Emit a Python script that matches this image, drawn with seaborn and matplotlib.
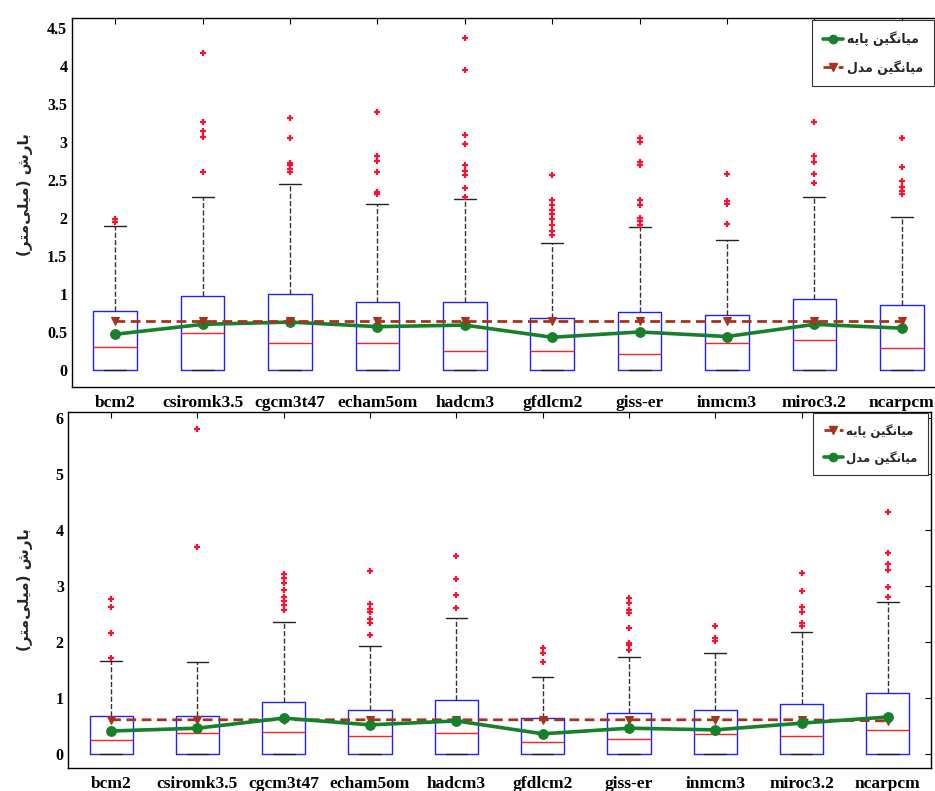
import numpy as np
import pandas as pd
import matplotlib
matplotlib.use("Agg")
import matplotlib.pyplot as plt
import seaborn as sns
from matplotlib.lines import Line2D

sns.set_style("white")
plt.rcParams['font.family'] = ['Liberation Serif', 'DejaVu Sans']
plt.rcParams['font.weight'] = 'bold'

# ---------------- data ----------------
models = ['bcm2', 'csiromk3.5', 'cgcm3t47', 'echam5om', 'hadcm3',
          'gfdlcm2', 'giss-er', 'inmcm3', 'miroc3.2', 'ncarpcm']

# top panel
top_q1 = [0, 0, 0, 0, 0, 0, 0, 0, 0, 0]
top_med = [0.30, 0.48, 0.35, 0.35, 0.25, 0.25, 0.21, 0.35, 0.40, 0.29]
top_q3 = [0.78, 0.97, 1.00, 0.89, 0.90, 0.68, 0.76, 0.72, 0.93, 0.86]
top_whi = [1.90, 2.28, 2.44, 2.18, 2.25, 1.67, 1.88, 1.71, 2.27, 2.01]
top_fliers = [
    [1.95, 1.98],
    [4.17, 3.26, 3.15, 3.07, 2.60],
    [3.31, 3.05, 2.72, 2.69, 2.65, 2.60],
    [3.40, 2.82, 2.75, 2.60, 2.34, 2.31],
    [4.37, 3.95, 3.09, 2.97, 2.69, 2.62, 2.56, 2.39, 2.27],
    [2.56, 2.24, 2.17, 2.11, 2.05, 1.98, 1.91, 1.83, 1.78],
    [3.05, 3.00, 2.74, 2.70, 2.23, 2.17, 2.00, 1.96, 1.91],
    [2.58, 2.22, 2.18, 1.92],
    [3.26, 2.82, 2.74, 2.58, 2.46],
    [3.05, 2.67, 2.48, 2.41, 2.36, 2.31],
]
top_green = [0.47, 0.60, 0.63, 0.57, 0.59, 0.43, 0.50, 0.44, 0.60, 0.55]
top_brown = [0.64, 0.64, 0.64, 0.64, 0.64, 0.64, 0.64, 0.64, 0.64, 0.64]

# bottom panel
bot_q1 = [0, 0, 0, 0, 0, 0, 0, 0, 0, 0]
bot_med = [0.25, 0.38, 0.39, 0.32, 0.38, 0.21, 0.27, 0.36, 0.32, 0.43]
bot_q3 = [0.68, 0.68, 0.93, 0.79, 0.96, 0.64, 0.73, 0.79, 0.89, 1.09]
bot_whi = [1.66, 1.64, 2.36, 1.93, 2.43, 1.38, 1.73, 1.80, 2.18, 2.71]
bot_fliers = [
    [2.77, 2.63, 2.16, 1.71],
    [5.80, 3.70],
    [3.21, 3.14, 3.05, 2.93, 2.80, 2.73, 2.66, 2.57],
    [3.27, 2.68, 2.59, 2.54, 2.41, 2.34, 2.13],
    [3.54, 3.13, 2.84, 2.61],
    [1.89, 1.80, 1.64],
    [2.79, 2.70, 2.57, 2.52, 2.25, 1.98, 1.95, 1.86],
    [2.29, 2.07, 2.02],
    [3.23, 2.91, 2.63, 2.54, 2.34, 2.29],
    [4.32, 3.59, 3.38, 3.29, 2.98, 2.80],
]
bot_green = [0.41, 0.46, 0.64, 0.52, 0.59, 0.36, 0.46, 0.43, 0.55, 0.66]
bot_brown = [0.61, 0.61, 0.61, 0.61, 0.61, 0.61, 0.61, 0.61, 0.61, 0.59]

top_yticks = [0, 0.5, 1, 1.5, 2, 2.5, 3, 3.5, 4, 4.5]
top_yticklabels = ['0', '0.5', '1', '1.5', '2', '2.5', '3', '3.5', '4', '4.5']
bot_yticks = [0, 1, 2, 3, 4, 5, 6]
bot_yticklabels = ['0', '1', '2', '3', '4', '5', '6']

# Persian text in visual order with presentation forms
w_barsh = "\uFEB5\uFEAD\uFE8E\uFE91"          # بارش
w_mili = "\uFEF0\uFEE0\uFEF4\uFEE3"            # میلی
w_metr = "\uFEAE\uFE98\uFEE3"                  # متر
w_mian = "\uFEE6\uFEF4\uFB95\uFEE7\uFE8E\uFEF4\uFEE3"  # میانگین
w_paye = "\uFEEA\uFEF3\uFE8E\uFB58"            # پایه
w_model = "\uFEDD\uFEAA\uFEE3"                 # مدل
ylabel_txt = "(" + w_metr + w_mili + ")" + " " + w_barsh
lbl_base = w_paye + " " + w_mian
lbl_model = w_model + " " + w_mian

GREEN = '#16802a'
BROWN = '#a8321e'

fig = plt.figure(figsize=(9.35, 7.91), dpi=100)
W, H = 935, 791

def make_axes(l, r, t, b):
    return fig.add_axes([l / W, (H - b) / H, (r - l) / W, (b - t) / H])

ax1 = make_axes(71.5, 945.5, 18, 387)
ax2 = make_axes(68, 931, 412, 768)

pos = np.arange(1, len(models) + 1)

def draw_panel(ax, q1, med, q3, whi, fliers, green, brown, order, labels,
               ylim, yticks, yticklabels, leg_anchor, leg_size):
    stats = []
    for i in range(len(models)):
        stats.append(dict(med=med[i], q1=q1[i], q3=q3[i], whislo=q1[i],
                          whishi=whi[i], fliers=np.array(fliers[i]),
                          label=models[i]))
    ax.bxp(stats, positions=pos, widths=0.5, capwidths=0.25,
           boxprops=dict(color='#2020ff', lw=1.0),
           medianprops=dict(color='#ff2020', lw=1.0),
           whiskerprops=dict(color='#333333', ls='--', lw=1.0),
           capprops=dict(color='#222222', lw=1.0),
           flierprops=dict(marker='+', markeredgecolor='#ff1030',
                           markersize=4.5, mew=1.6, linestyle='none'),
           manage_ticks=False)
    handles = {}
    for key in order:
        if key == 'green':
            sns.lineplot(x=pos, y=green, ax=ax, color=GREEN, lw=2.6,
                         marker='o', markersize=7, markeredgecolor=GREEN,
                         zorder=5)
            handles['green'] = Line2D([], [], color=GREEN, lw=2.6, marker='o',
                                      markersize=6, markeredgecolor=GREEN)
        else:
            sns.lineplot(x=pos, y=brown, ax=ax, color=BROWN, lw=2.0,
                         linestyle=(0, (3.5, 2)), marker='v', markersize=6,
                         markeredgecolor=BROWN, zorder=5)
            handles['brown'] = Line2D([], [], color=BROWN, lw=2.0,
                                      linestyle=(0, (3.5, 2)), marker='v',
                                      markersize=6, markeredgecolor=BROWN)
    ax.set_xlim(0.5, len(models) + 0.5)
    ax.set_ylim(*ylim)
    ax.set_xticks(pos)
    ax.set_xticklabels(models, fontsize=12.5, fontweight='bold',
                       family='Liberation Serif')
    ax.set_yticks(yticks)
    ax.set_yticklabels(yticklabels, fontsize=11.5, fontweight='bold',
                       family='Liberation Serif')
    ax.tick_params(direction='in', length=4, width=0.8, top=True,
                   right=True, pad=3, colors='black')
    ax.tick_params(axis='x', pad=6)
    for s in ax.spines.values():
        s.set_visible(True)
        s.set_color('black')
        s.set_linewidth(1.0)
    ax.set_xlabel('')
    ax.set_ylabel('')
    leg = ax.legend([handles[k] for k in labels[0]], labels[1],
                    loc='upper right', bbox_to_anchor=leg_anchor,
                    frameon=True, fancybox=False, framealpha=1,
                    edgecolor='#333333', borderpad=0.9, labelspacing=1.1,
                    handlelength=1.6, handletextpad=0.3, borderaxespad=0.0,
                    prop=dict(family='DejaVu Sans', weight='bold',
                              size=leg_size))
    leg.get_frame().set_linewidth(0.8)

draw_panel(ax1, top_q1, top_med, top_q3, top_whi, top_fliers, top_green,
           top_brown, order=['green', 'brown'],
           labels=(['green', 'brown'], [lbl_base, lbl_model]),
           ylim=(-0.224, 4.63), yticks=top_yticks,
           yticklabels=top_yticklabels,
           leg_anchor=((934 - 71.5) / 874, 0.995), leg_size=9)
draw_panel(ax2, bot_q1, bot_med, bot_q3, bot_whi, bot_fliers, bot_green,
           bot_brown, order=['brown', 'green'],
           labels=(['brown', 'green'], [lbl_base, lbl_model]),
           ylim=(-0.25, 6.1), yticks=bot_yticks,
           yticklabels=bot_yticklabels,
           leg_anchor=(0.997, 0.997), leg_size=8.5)

fig.text(25 / W, 1 - 195 / H, ylabel_txt, rotation=90, ha='center',
         va='center', fontsize=11, fontweight='bold', family='DejaVu Sans')
fig.text(25 / W, 1 - 590 / H, ylabel_txt, rotation=90, ha='center',
         va='center', fontsize=11, fontweight='bold', family='DejaVu Sans')

fig.savefig('out.png', dpi=100)
